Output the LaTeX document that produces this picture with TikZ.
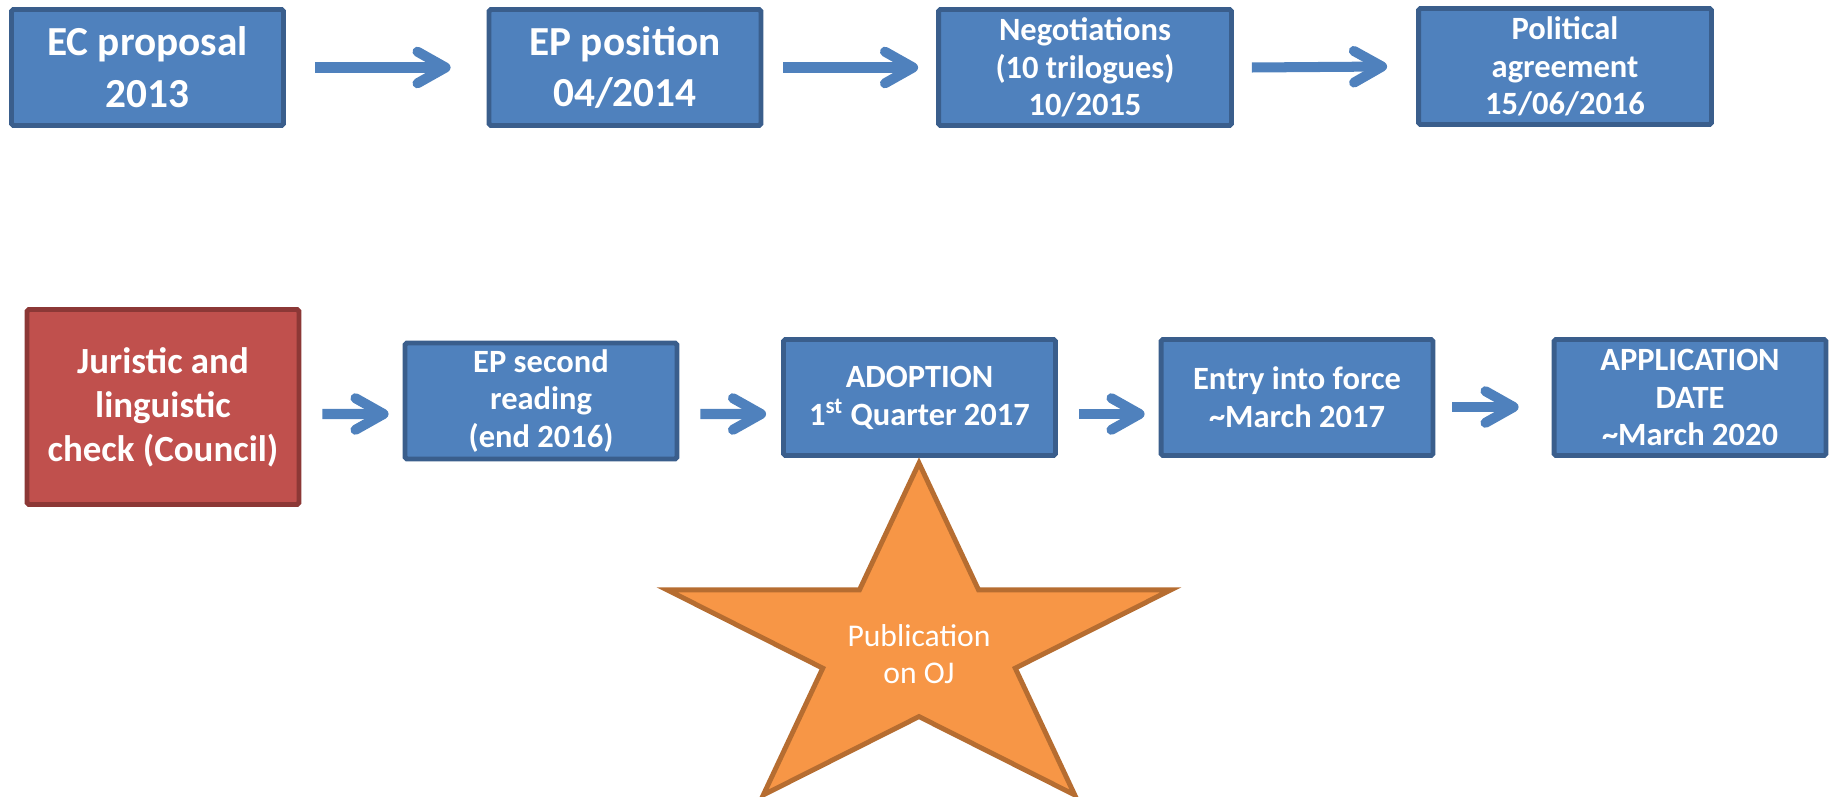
\documentclass[tikz,border=0pt]{standalone}
\usepackage{fontspec}
\setmainfont{Carlito}
\usetikzlibrary{shapes.geometric}
\usetikzlibrary{arrows.meta}

\definecolor{phasefill}{HTML}{4F81BD}
\definecolor{phaseline}{HTML}{3A5E8C}
\definecolor{councilfill}{HTML}{C0504D}
\definecolor{councilline}{HTML}{8C3836}
\definecolor{starfill}{HTML}{F79646}
\definecolor{starline}{HTML}{B66D31}

\tikzset{
  phase/.style={draw=phaseline, fill=phasefill, line width=2.8pt, rounded corners=1pt,
    text=white, align=center, inner sep=0pt, minimum width=5.44cm, minimum height=2.32cm,
    font=\bfseries\fontsize{18.5}{21.5}\selectfont},
  bigphase/.style={phase, font=\bfseries\fontsize{23.5}{29.5}\selectfont},
  widephase/.style={phase, minimum width=5.86cm, font=\bfseries\fontsize{18.5}{21.5}\selectfont},
  council/.style={phase, draw=councilline, fill=councilfill, minimum height=3.9cm,
    font=\bfseries\fontsize{21}{25}\selectfont},
  flow/.style={draw=phasefill, line width=5.7pt, -{Straight Barb[length=16pt, width=18pt, round]}},
  ojstar/.style={star, star points=5, star point ratio=2.618, minimum size=7.34cm, inner sep=0pt,
    draw=starline, fill=starfill, line width=2.8pt, xscale=1.444, transform shape},
}

\begin{document}
\begin{tikzpicture}[x=0.02cm, y=-0.02cm]
\useasboundingbox (0,0) rectangle (1831,797);

% legislative steps up to the agreement
\node(ec)  [bigphase]  at (147.5,67.5) {EC proposal\\2013};
\node(ep)  [bigphase]  at (625,67.5)   {EP position\\04/2014};
\node(neg) [widephase] at (1085,67.5)  {Negotiations\\(10 trilogues)\\10/2015};
\node(pol) [widephase] at (1565,66.5)  {Political\\agreement\\15/06/2016};

\draw[flow] ([xshift=0.58cm]ec.east)  -- ([xshift=-0.72cm]ep.west);
\draw[flow] ([xshift=0.40cm]ep.east)  -- ([xshift=-0.36cm]neg.west);
\draw[flow] ([xshift=0.36cm]neg.east) -- ([xshift=-0.58cm]pol.west);

% after the agreement
\node(jur)   [council] at (163,407)    {Juristic and\\linguistic\\check (Council)};
\node(eps)   [phase]   at (541,401)    {EP second\\reading\\(end 2016)};
\node(adop)  [phase]   at (919.5,397.5) {ADOPTION\\1\textsuperscript{st} Quarter 2017};
\node(entry) [phase]   at (1297,397.5) {Entry into force\\\textasciitilde March 2017};
\node(appl)  [phase]   at (1690,397.5) {APPLICATION\\DATE\\\textasciitilde March 2020};

\draw[flow] ([xshift=0.42cm, yshift=-0.14cm]jur.east)   -- ([xshift=-0.28cm, yshift=-0.26cm]eps.west);
\draw[flow] ([xshift=0.42cm, yshift=-0.26cm]eps.east)   -- ([xshift=-0.30cm, yshift=-0.33cm]adop.west);
\draw[flow] ([xshift=0.42cm, yshift=-0.33cm]adop.east)  -- ([xshift=-0.28cm, yshift=-0.33cm]entry.west);
\draw[flow] ([xshift=0.34cm, yshift=-0.19cm]entry.east) -- ([xshift=-0.66cm, yshift=-0.19cm]appl.west);

% publication star
\coordinate (starc) at (919,646.5);
\node(ojshape) [ojstar] at (starc) {};
\node(oj) [text=white, align=center, font=\fontsize{18}{21}\selectfont] at (919,654) {Publication\\on OJ};
\end{tikzpicture}
\end{document}
